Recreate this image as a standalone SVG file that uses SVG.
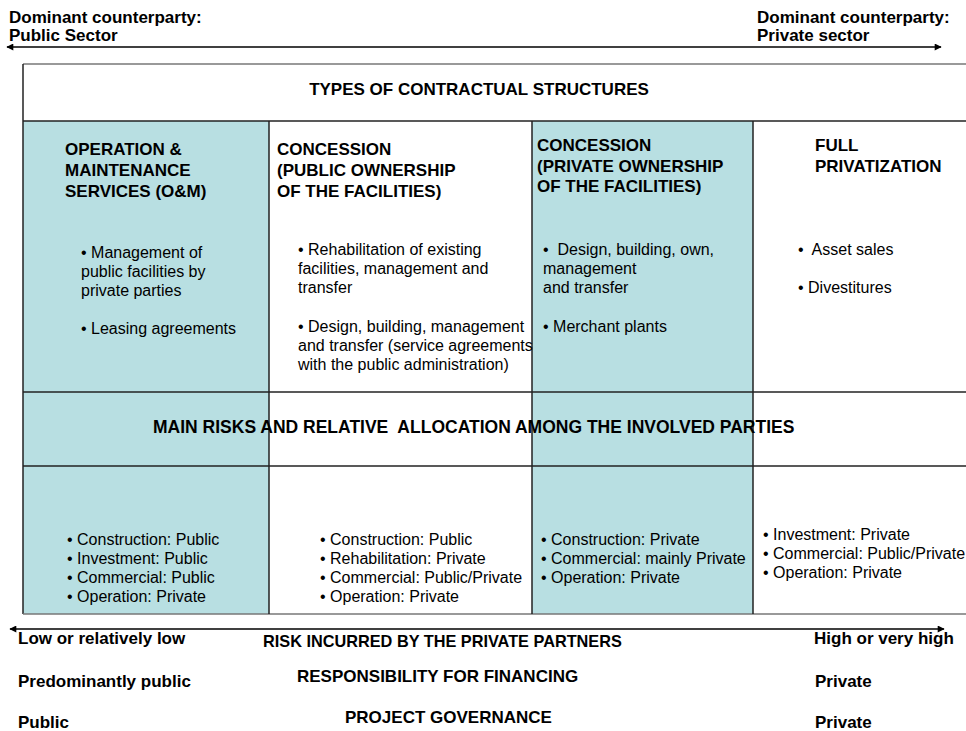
<svg xmlns="http://www.w3.org/2000/svg" width="966" height="731" viewBox="0 0 966 731">
<style>
text{font-family:"Liberation Sans",Arial,sans-serif;fill:#000}
.b{font-weight:bold;font-size:17px}
.r{font-size:16px}
.grid{stroke:#222;stroke-width:1.5;fill:none}
.gray{stroke:#777;stroke-width:1.5;fill:none}
.teal{fill:#b8dfe2}
.arrow{stroke:#000;stroke-width:1.3;fill:none;marker-start:url(#ah);marker-end:url(#ah)}
</style>
<defs>
<marker id="ah" viewBox="0 0 10 10" refX="9" refY="5" markerWidth="9" markerHeight="7" markerUnits="userSpaceOnUse" orient="auto-start-reverse">
<path d="M0,0 L10,5 L0,10 z" fill="#000"/>
</marker>
</defs>
<rect width="966" height="731" fill="#fff"/>

<g id="table">
<rect class="teal" x="23" y="121" width="246" height="493"/>
<rect class="teal" x="532" y="121" width="221" height="493"/>
<line class="gray" x1="23" y1="64" x2="966" y2="64"/>
<line class="grid" x1="23" y1="64" x2="23" y2="614"/>
<line class="grid" x1="23" y1="121" x2="966" y2="121"/>
<line class="grid" x1="23" y1="392" x2="966" y2="392"/>
<line class="grid" x1="23" y1="466" x2="966" y2="466"/>
<line class="gray" x1="23" y1="614" x2="966" y2="614"/>
<line class="grid" x1="269" y1="121" x2="269" y2="614"/>
<line class="grid" x1="532" y1="121" x2="532" y2="614"/>
<line class="grid" x1="753" y1="121" x2="753" y2="614"/>
</g>

<g id="connectors">
<line class="arrow" x1="7" y1="47" x2="941" y2="47"/>
<line class="arrow" x1="10" y1="629" x2="944" y2="629"/>
</g>

<g id="top-left"><text class="b" x="9" y="23">Dominant counterparty:</text><text class="b" x="9" y="41">Public Sector</text></g>
<g id="top-right"><text class="b" x="757" y="23">Dominant counterparty:</text><text class="b" x="757" y="41">Private sector</text></g>

<g id="header"><text class="b" x="479" y="95" text-anchor="middle">TYPES OF CONTRACTUAL STRUCTURES</text></g>

<g id="om">
<text class="b" x="65"><tspan x="65" y="155">OPERATION &amp;</tspan><tspan x="65" y="176">MAINTENANCE</tspan><tspan x="65" y="197">SERVICES (O&amp;M)</tspan></text>
<text class="r"><tspan x="81" y="258">• Management of</tspan><tspan x="81" y="277">public facilities by</tspan><tspan x="81" y="296">private parties</tspan><tspan x="81" y="334">• Leasing agreements</tspan></text>
</g>

<g id="concession-public">
<text class="b"><tspan x="277" y="155">CONCESSION</tspan><tspan x="277" y="176">(PUBLIC OWNERSHIP</tspan><tspan x="277" y="197">OF THE FACILITIES)</tspan></text>
<text class="r"><tspan x="298" y="255">• Rehabilitation of existing</tspan><tspan x="298" y="274">facilities, management and</tspan><tspan x="298" y="293">transfer</tspan><tspan x="298" y="332">• Design, building, management</tspan><tspan x="298" y="351">and transfer (service agreements</tspan><tspan x="298" y="370">with the public administration)</tspan></text>
</g>

<g id="concession-private">
<text class="b"><tspan x="537" y="151">CONCESSION</tspan><tspan x="537" y="172">(PRIVATE OWNERSHIP</tspan><tspan x="537" y="192">OF THE FACILITIES)</tspan></text>
<text class="r"><tspan x="543" y="255" xml:space="preserve">•  Design, building, own,</tspan><tspan x="543" y="274">management</tspan><tspan x="543" y="293">and transfer</tspan><tspan x="543" y="332">• Merchant plants</tspan></text>
</g>

<g id="full-privatization">
<text class="b"><tspan x="815" y="151">FULL</tspan><tspan x="815" y="172">PRIVATIZATION</tspan></text>
<text class="r"><tspan x="798" y="255" xml:space="preserve">•  Asset sales</tspan><tspan x="798" y="293">• Divestitures</tspan></text>
</g>

<g id="risks-header"><text class="b" x="153" y="433" style="font-size:17.5px" xml:space="preserve">MAIN RISKS AND RELATIVE  ALLOCATION AMONG THE INVOLVED PARTIES</text></g>

<g id="risks-om"><text class="r"><tspan x="67" y="545">• Construction: Public</tspan><tspan x="67" y="564">• Investment: Public</tspan><tspan x="67" y="583">• Commercial: Public</tspan><tspan x="67" y="602">• Operation: Private</tspan></text></g>
<g id="risks-concession-public"><text class="r"><tspan x="320" y="545">• Construction: Public</tspan><tspan x="320" y="564">• Rehabilitation: Private</tspan><tspan x="320" y="583">• Commercial: Public/Private</tspan><tspan x="320" y="602">• Operation: Private</tspan></text></g>
<g id="risks-concession-private"><text class="r"><tspan x="541" y="545">• Construction: Private</tspan><tspan x="541" y="564">• Commercial: mainly Private</tspan><tspan x="541" y="583">• Operation: Private</tspan></text></g>
<g id="risks-full"><text class="r"><tspan x="763" y="540">• Investment: Private</tspan><tspan x="763" y="559">• Commercial: Public/Private</tspan><tspan x="763" y="578">• Operation: Private</tspan></text></g>

<g id="bottom-labels">
<text class="b" x="18" y="644">Low or relatively low</text>
<text class="b" x="263" y="647" style="font-size:16.3px">RISK INCURRED BY THE PRIVATE PARTNERS</text>
<text class="b" x="814" y="644">High or very high</text>
<text class="b" x="18" y="687">Predominantly public</text>
<text class="b" x="297" y="682">RESPONSIBILITY FOR FINANCING</text>
<text class="b" x="815" y="687">Private</text>
<text class="b" x="18" y="728">Public</text>
<text class="b" x="345" y="723">PROJECT GOVERNANCE</text>
<text class="b" x="815" y="728">Private</text>
</g>
</svg>
